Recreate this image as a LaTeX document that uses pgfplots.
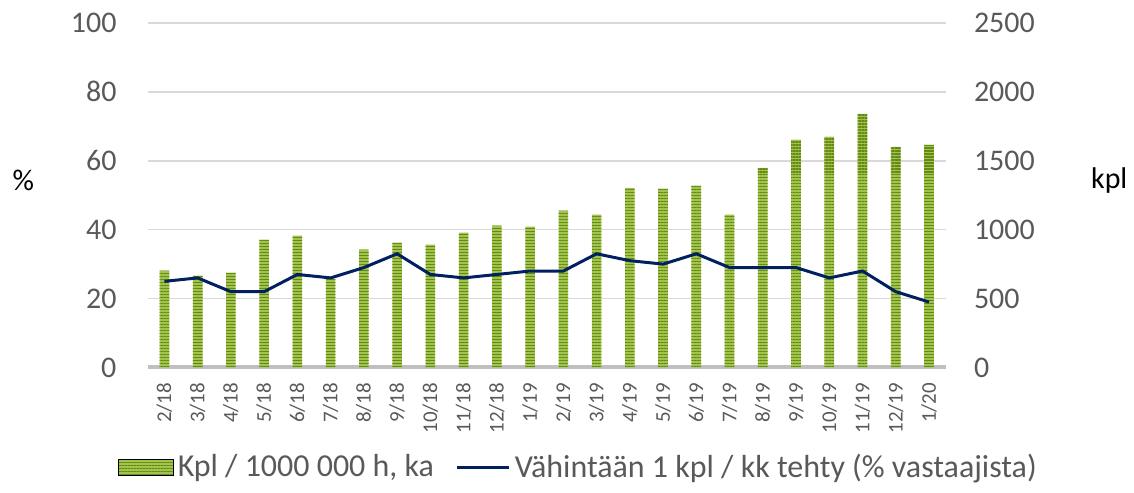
\documentclass[border=0pt]{standalone}
\usepackage{pgfplots}
\pgfplotsset{compat=1.18}
\usepackage{fontspec}
\setmainfont{Carlito}
\usetikzlibrary{patterns.meta}
\definecolor{txt}{RGB}{89,89,89}
\definecolor{gridc}{RGB}{217,217,217}
\definecolor{axc}{RGB}{191,191,191}
\definecolor{barlight}{RGB}{160,196,76}
\definecolor{bardark}{RGB}{102,136,22}
\definecolor{navy}{RGB}{0,32,96}
\pgfplotsset{
  barleg/.style={legend image code/.code={\path[draw=none, fill=barlight,
    postaction={pattern={Lines[angle=0,distance=1.5pt,line width=0.75pt]}, pattern color=bardark}] (0pt,-4pt) rectangle (27.5pt,4pt);}},
  lineleg/.style={legend image code/.code={\draw[##1] (0pt,0pt) -- (26pt,0pt);}},
  base/.style={
    scale only axis, width=399.5pt, height=172.5pt,
    at={(0pt,0pt)}, anchor=south west,
    xmin=-0.5, xmax=23.5,
    major tick length=0pt,
    axis line style={draw=none},
    /pgf/number format/assume math mode=true,
    /pgf/number format/1000 sep={},
    tick label style={text=txt},
  }
}
\begin{document}
\begin{tikzpicture}
% right axis with bars and grid
\begin{axis}[base,
  ymin=0, ymax=2500, ytick={0,500,1000,1500,2000,2500},
  axis y line*=right,
  ymajorgrids, grid style={gridc, line width=0.75pt},
  extra y ticks={0}, extra y tick labels={},
  extra y tick style={grid style={axc, line width=2pt}},
  yticklabel style={anchor=west, inner sep=0pt, font=\fontsize{15}{18}\selectfont},
  yticklabel shift=14pt,
  xtick={0,...,23},
  xticklabels={2/18,3/18,4/18,5/18,6/18,7/18,8/18,9/18,10/18,11/18,12/18,1/19,2/19,3/19,4/19,5/19,6/19,7/19,8/19,9/19,10/19,11/19,12/19,1/20},
  xticklabel style={rotate=90, anchor=east, inner sep=0pt, font=\fontsize{10.5}{12}\selectfont},
  xticklabel shift=7.5pt,
  ylabel={kpl}, ylabel style={rotate=-90, anchor=center, at={(rel axis cs:1.205,0.542)}, font=\fontsize{15}{18}\selectfont, text=black},
]
\addplot[ybar, bar width=4.85pt, draw=none, fill=barlight,
  postaction={pattern={Lines[angle=0,distance=1.5pt,line width=0.75pt]}, pattern color=bardark}]
coordinates {
(0,703) (1,667) (2,688) (3,927) (4,957) (5,645) (6,855) (7,906) (8,891) (9,978) (10,1029) (11,1022)
(12,1138) (13,1109) (14,1304) (15,1297) (16,1319) (17,1109) (18,1449) (19,1652) (20,1674) (21,1841) (22,1601) (23,1616)
};
\end{axis}
% left axis with line
\begin{axis}[base,
  ymin=0, ymax=100, ytick={0,20,40,60,80,100},
  axis y line*=left,
  xtick=\empty,
  yticklabel style={anchor=east, inner sep=0pt, font=\fontsize{15}{18}\selectfont},
  yticklabel shift=15.5pt,
  ylabel={\%}, ylabel style={rotate=-90, anchor=center, at={(rel axis cs:-0.156,0.542)}, font=\fontsize{15}{18}\selectfont, text=black},
  legend style={draw=none, fill=none, at={(rel axis cs:0.541,-0.29)}, anchor=center,
    font=\fontsize{16}{19}\selectfont, text=txt, inner sep=0pt,
    /tikz/every even column/.append style={column sep=9pt},
    nodes={inner sep=2pt}},
  legend columns=2,
]
\addlegendimage{barleg}
\addlegendentry{Kpl / 1000 000 h, ka}
\addplot[navy, line width=1.5pt, mark=none, lineleg]
coordinates {
(0,25) (1,26) (2,22) (3,22) (4,27) (5,26) (6,29) (7,33) (8,27) (9,26) (10,27) (11,28)
(12,28) (13,33) (14,31) (15,30) (16,33) (17,29) (18,29) (19,29) (20,26) (21,28) (22,22) (23,19)
};
\addlegendentry{Vähintään 1 kpl / kk tehty (\% vastaajista)}
\end{axis}
\path[use as bounding box] (-74pt,-62.5pt) rectangle (493pt,184pt);
\end{tikzpicture}
\end{document}
